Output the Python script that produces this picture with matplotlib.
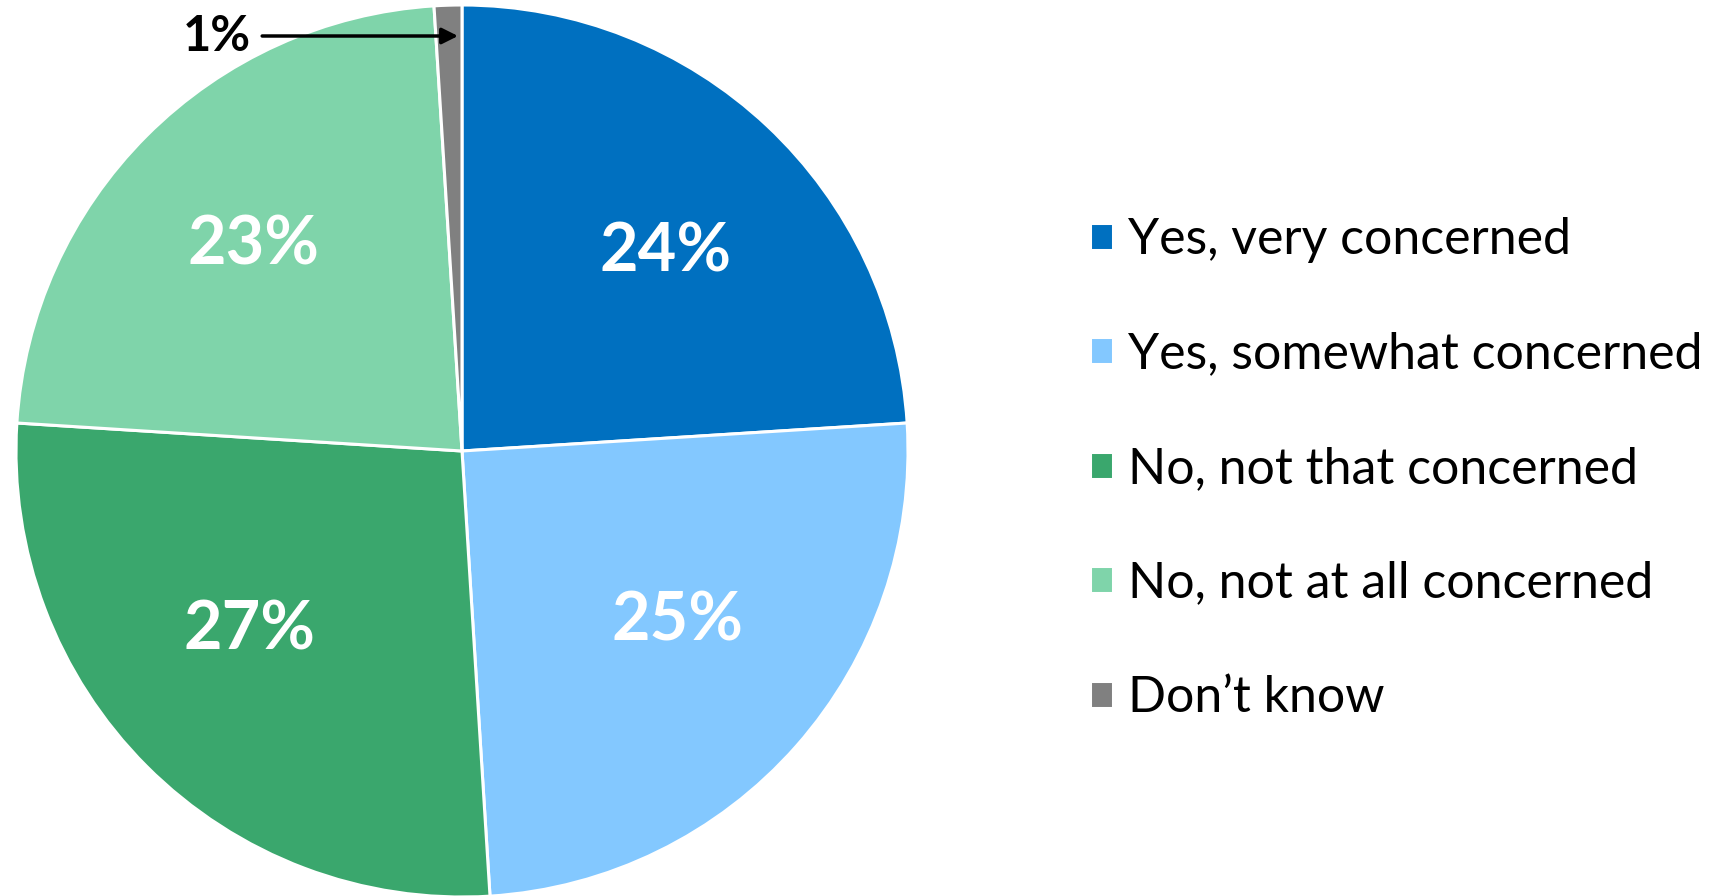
import matplotlib
matplotlib.use("Agg")
import matplotlib.pyplot as plt
import numpy as np

categories = ["Yes, very concerned", "Yes, somewhat concerned", "No, not that concerned",
              "No, not at all concerned", "Don\u2019t know"]
values = [24, 25, 27, 23, 1]
colors = ["#0070C0", "#83C8FF", "#3AA76D", "#7FD4AA", "#808080"]

plt.rcParams['font.family'] = ['Lato', 'DejaVu Sans']

W, H = 1732, 896
fig = plt.figure(figsize=(W / 100, H / 100), dpi=100)
ax = fig.add_axes([0, 0, 1, 1])

cx, cy, R = 462, H - 451, 446
wedges, _ = ax.pie(values, colors=colors, startangle=90, counterclock=False,
                   center=(cx, cy), radius=R, frame=True,
                   wedgeprops=dict(edgecolor='white', linewidth=2.2))
ax.set_xlim(0, W)
ax.set_ylim(0, H)
ax.set_aspect('equal')
ax.axis('off')

# label positions (pixel layout, from top-left)
label_pos = [(666, 252), (678, 621), (249, 630), (254, 245)]
for (px, py), v in zip(label_pos, values[:4]):
    ax.text(px, H - py, f"{v}%", ha='center', va='center', color='white',
            fontsize=48, fontweight='bold')

# small slice annotation
ay = H - 36
ax.annotate(f"{values[-1]}%", xy=(cx - 4, ay), xytext=(217, ay),
            ha='center', va='center', fontsize=35, fontweight='bold', color='black',
            arrowprops=dict(arrowstyle='-|>', color='black', lw=2.5,
                            mutation_scale=24, shrinkA=6, shrinkB=0))

leg = fig.legend(wedges, categories, loc='upper left', bbox_to_anchor=(1070 / W, 1 - 197 / H),
                 frameon=False, fontsize=36, handlelength=0.45, handleheight=0.45,
                 handletextpad=0.3, labelspacing=1.37, borderaxespad=0)

fig.savefig("out.png", dpi=100)
